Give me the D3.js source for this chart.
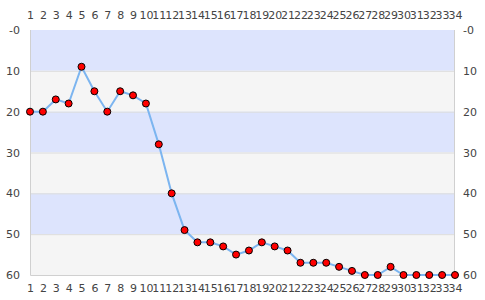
<!DOCTYPE html>
<meta charset="utf-8">
<head>
  <style>
  body { margin: 0; background: #fff; }
  .tick text { font-family: "DejaVu Sans", sans-serif; font-size: 11px; fill: #444; }
  </style>
</head>
<body>
<svg width="485" height="300"></svg>
<script src="https://d3js.org/d3.v7.min.js"></script>
<script>

// data
var positions = [1,2,3,4,5,6,7,8,9,10,11,12,13,14,15,16,17,18,19,20,21,22,23,24,25,26,27,28,29,30,31,32,33,34];
var ranks = [20,20,17,18,9,15,20,15,16,18,28,40,49,52,52,53,55,54,52,53,54,57,57,57,58,59,60,60,58,60,60,60,60,60];
var yTicks = [0,10,20,30,40,50,60];
var bands = [[0,10,"#dde4fd"],[10,20,"#f5f5f5"],[20,30,"#dde4fd"],[30,40,"#f5f5f5"],[40,50,"#dde4fd"],[50,60,"#f5f5f5"]];

var svg = d3.select("svg"),
    margin = {top: 30, right: 30, bottom: 25, left: 30},
    width = 485 - margin.left - margin.right,
    height = 300 - margin.top - margin.bottom;

var g = svg.append("g")
    .attr("transform", "translate(" + margin.left + "," + margin.top + ")");

var x = d3.scalePoint().domain(positions).range([0, width]);
var y = d3.scaleLinear().domain([0, 60]).range([0, height]);

// background bands
g.selectAll(".band")
  .data(bands)
  .enter().append("rect")
    .attr("x", 0)
    .attr("width", width)
    .attr("y", function(d) { return y(d[0]); })
    .attr("height", function(d) { return y(d[1]) - y(d[0]); })
    .attr("fill", function(d) { return d[2]; });

// grid lines
g.selectAll(".grid")
  .data(yTicks.slice(1, -1))
  .enter().append("line")
    .attr("x1", 0).attr("x2", width)
    .attr("y1", function(d) { return y(d) + 0.5; })
    .attr("y2", function(d) { return y(d) + 0.5; })
    .attr("stroke", "#dcdcdc");

// frame (left, right, bottom)
g.append("path")
  .attr("d", "M0.5,0V" + (height + 0.5) + "H" + (width - 0.5) + "V0")
  .attr("fill", "none")
  .attr("stroke", "#d0d0d0");

function fmtY(d) { return d === 0 ? "-0" : d; }

var axLeft = g.append("g").call(d3.axisLeft(y).tickValues(yTicks).tickFormat(fmtY).tickSize(0).tickPadding(10));
var axRight = g.append("g").attr("transform", "translate(" + width + ",0)")
    .call(d3.axisRight(y).tickValues(yTicks).tickFormat(fmtY).tickSize(0).tickPadding(8));
var axTop = g.append("g").call(d3.axisTop(x).tickSize(0).tickPadding(11));
var axBottom = g.append("g").attr("transform", "translate(0," + height + ")")
    .call(d3.axisBottom(x).tickSize(0).tickPadding(9));

[axLeft, axRight, axTop, axBottom].forEach(function(a) { a.select(".domain").remove(); });

// line
var line = d3.line()
    .x(function(d, i) { return x(positions[i]); })
    .y(function(d) { return y(d); });

g.append("path")
  .datum(ranks)
  .attr("d", line)
  .attr("fill", "none")
  .attr("stroke", "#7cb5f0")
  .attr("stroke-width", 2);

// markers
g.selectAll(".dot")
  .data(ranks)
  .enter().append("circle")
    .attr("cx", function(d, i) { return x(positions[i]); })
    .attr("cy", function(d) { return y(d); })
    .attr("r", 3.5)
    .attr("fill", "#ff0000")
    .attr("stroke", "#000")
    .attr("stroke-width", 1);

</script>
</body>
